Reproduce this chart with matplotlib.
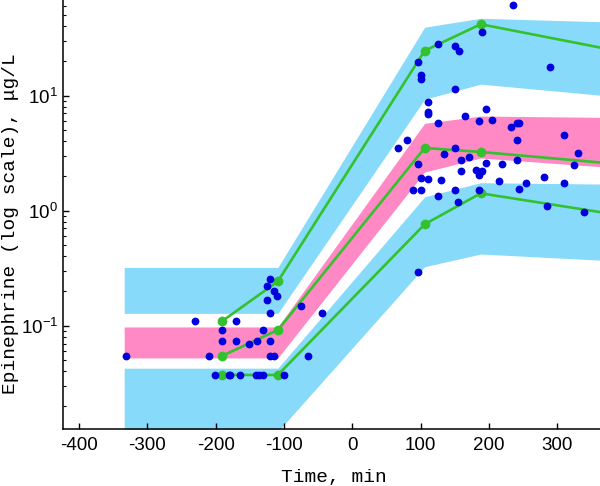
import matplotlib
matplotlib.use("Agg")
import matplotlib.pyplot as plt
from matplotlib.ticker import LogLocator, FixedLocator, NullFormatter, LogFormatterSciNotation

# ---- data ----
obs_time = [-331, -231, -210, -201, -191, -191, -181, -179, -170, -170, -165, -151, -140,
            -141, -136, -131, -131, -125, -125, -120.5, -120.5, -120.5, -120.5, -114, -114,
            -110, -99.5, -75.5, -65, -45,
            67.4, 79.6, 95.7, 96, 100, 100, 111, 111, 111, 125.5, 150, 156, 150, 190, 235.7,
            289.5, 195.7, 164.5, 125.5, 185, 204.5, 233, 240.7, 244.5, 240.7, 310, 330, 324.6,
            150, 134, 170.4, 159.7, 95.7, 195.7, 219, 240.7, 159.7, 181, 190, 186, 100, 111,
            129.8, 215, 255, 280.7, 310, 89.5, 100, 125.5, 150, 185, 244.5, 155, 284.5, 339.6]
obs_conc = [0.0545, 0.109, 0.0545, 0.0373, 0.0918, 0.074, 0.0373, 0.0373, 0.109, 0.074, 0.0373,
            0.069, 0.074, 0.0373, 0.0373, 0.0373, 0.0918, 0.223, 0.166, 0.255, 0.129, 0.074,
            0.0545, 0.2, 0.0545, 0.182, 0.0373, 0.148, 0.0545, 0.129,
            3.49, 4.12, 0.295, 19.8, 15.2, 13.9, 8.87, 7.2, 6.9, 28.3, 27.0, 24.5, 11.5, 35.8,
            61.9, 17.7, 7.66, 6.62, 5.75, 6.06, 6.18, 5.37, 5.75, 5.75, 4.14, 4.55, 3.18, 2.5,
            3.53, 3.09, 2.95, 2.76, 2.56, 2.61, 2.56, 2.74, 2.21, 2.27, 2.21, 2.03, 1.92, 1.89,
            1.84, 1.80, 1.75, 1.98, 1.75, 1.52, 1.52, 1.35, 1.52, 1.50, 1.55, 1.18, 1.10, 0.97]

pct_time = [-191, -109, 106, 188, 420]
p95_obs = [0.109, 0.243, 24.6, 41.8, 22.5]
p50_obs = [0.0545, 0.0918, 3.51, 3.24, 2.45]
p05_obs = [0.0373, 0.0373, 0.762, 1.416, 0.86]

band_time = [-334, -191, -109, 106, 188, 420]
p95_hi = [0.321, 0.321, 0.321, 39.4, 47.1, 43.0]
p95_lo = [0.128, 0.128, 0.128, 9.31, 12.6, 9.40]
p50_hi = [0.0975, 0.0975, 0.0975, 5.75, 6.65, 6.43]
p50_lo = [0.0524, 0.0524, 0.0524, 2.17, 2.87, 2.28]
p05_hi = [0.0427, 0.0427, 0.0427, 1.32, 1.75, 1.69]
p05_lo = [0.012, 0.012, 0.012, 0.326, 0.420, 0.357]

x_ticks = [-400, -300, -200, -100, 0, 100, 200, 300]

# ---- style ----
plt.rcParams['axes.unicode_minus'] = False
plt.rcParams['mathtext.fontset'] = 'custom'
plt.rcParams['mathtext.rm'] = 'Liberation Sans Narrow'
plt.rcParams['mathtext.it'] = 'Liberation Sans Narrow'
plt.rcParams['mathtext.bf'] = 'Liberation Sans Narrow'
tick_font = ['Liberation Sans Narrow', 'Liberation Sans', 'DejaVu Sans']
label_font = ['Liberation Mono', 'DejaVu Sans Mono']

BLUE_BAND = '#87DAFA'
PINK_BAND = '#FF89C4'
GREEN = '#33C22E'
DOT = '#0000DD'

fig = plt.figure(figsize=(6, 4.86), dpi=100)
ax = fig.add_axes([0.105, 0.1173, 0.895, 0.8827])
ax.set_yscale('log')

ax.fill_between(band_time, p95_lo, p95_hi, color=BLUE_BAND, lw=0, zorder=1)
ax.fill_between(band_time, p50_lo, p50_hi, color=PINK_BAND, lw=0, zorder=1)
ax.fill_between(band_time, p05_lo, p05_hi, color=BLUE_BAND, lw=0, zorder=1)

for series in (p95_obs, p50_obs, p05_obs):
    ax.plot(pct_time, series, color=GREEN, lw=1.9, marker='o', ms=6,
            mec=GREEN, mfc=GREEN, zorder=2)

ax.plot(obs_time, obs_conc, ls='none', marker='o', ms=4.6, mfc=DOT, mec=DOT, zorder=3)

ax.set_xlim(-423.6, 362.7)
ax.set_ylim(0.01264, 67.9)

ax.xaxis.set_major_locator(FixedLocator(x_ticks))
ax.yaxis.set_major_locator(FixedLocator([0.1, 1, 10]))
ax.yaxis.set_major_formatter(LogFormatterSciNotation())
ax.yaxis.set_minor_locator(LogLocator(base=10, subs=[2, 3, 4, 5, 6, 7, 8, 9], numticks=20))
ax.yaxis.set_minor_formatter(NullFormatter())

for s in ('top', 'right'):
    ax.spines[s].set_visible(False)
for s in ('left', 'bottom'):
    ax.spines[s].set_linewidth(1.1)
    ax.spines[s].set_zorder(5)

ax.tick_params(axis='both', which='major', direction='in', length=4.5, width=1.0,
               labelsize=13.5)
ax.tick_params(axis='y', which='minor', direction='in', length=2.3, width=0.8)
ax.tick_params(axis='x', which='major', pad=6)
ax.tick_params(axis='y', which='major', pad=3.5)
for lab in ax.get_xticklabels() + ax.get_yticklabels():
    lab.set_fontfamily(tick_font)

ax.set_xlabel('Time, min', family=label_font, fontsize=14, va='center')
ax.xaxis.set_label_coords(0.505, -0.114)
ax.set_ylabel('Epinephrine (log scale), μg/L', family=label_font, fontsize=14, va='center')
ax.yaxis.set_label_coords(-0.0975, 0.478)

fig.savefig('out.png', dpi=100)
